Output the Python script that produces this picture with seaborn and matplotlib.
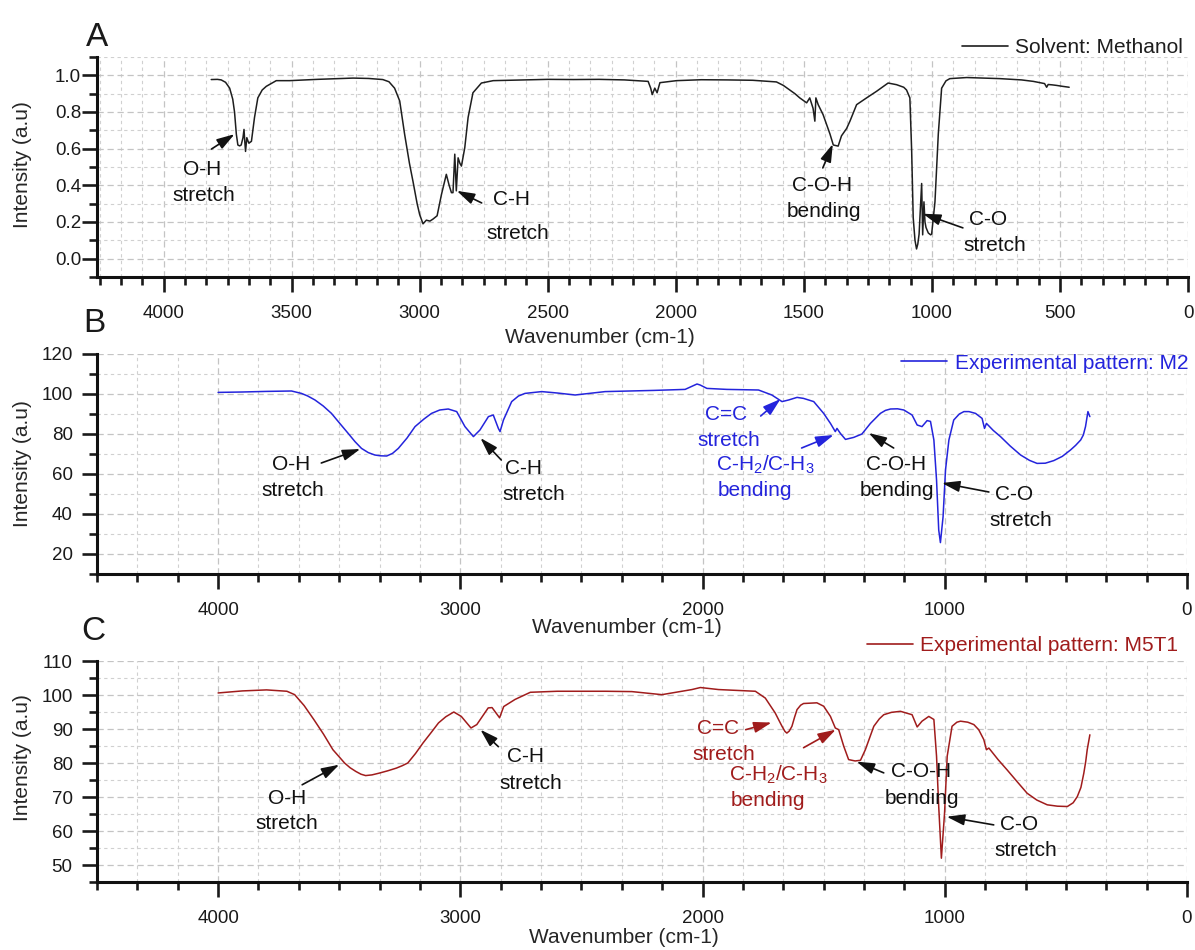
import matplotlib
matplotlib.use('Agg')
import matplotlib.pyplot as plt
from matplotlib.ticker import MultipleLocator, AutoMinorLocator, FormatStrFormatter
import pandas as pd
import seaborn as sns

# ---- spectra ----
wn_methanol = [3814, 3790, 3775, 3758, 3742, 3730, 3723, 3716, 3710, 3703, 3697, 3690, 3686, 3683,
               3680, 3675, 3670, 3667, 3657, 3645, 3632, 3615, 3599, 3560, 3508, 3400, 3260, 3200,
               3144, 3120, 3098, 3078, 3059, 3040, 3026, 3010, 3000, 2987, 2974, 2960, 2948, 2932,
               2915, 2896, 2885, 2876, 2870, 2863, 2857, 2850, 2843, 2837, 2824, 2811, 2792, 2759,
               2713, 2600, 2500, 2400, 2300, 2200, 2108, 2098, 2092, 2082, 2073, 2062, 1997, 1900,
               1800, 1700, 1607, 1580, 1555, 1535, 1516, 1489, 1477, 1464, 1457, 1453, 1444, 1425,
               1398, 1385, 1366, 1353, 1340, 1333, 1320, 1294, 1255, 1216, 1171, 1138, 1110, 1099,
               1086, 1079, 1073, 1066, 1060, 1055, 1050, 1044, 1040, 1036, 1031, 1027, 1023, 1014,
               1005, 1001, 988, 975, 962, 945, 930, 864, 800, 734, 650, 604, 560, 552, 546, 530,
               513, 490, 464]
int_methanol = [0.977, 0.978, 0.975, 0.962, 0.93, 0.87, 0.80, 0.68, 0.62, 0.615, 0.62, 0.66, 0.705,
                0.64, 0.585, 0.66, 0.64, 0.63, 0.64, 0.77, 0.877, 0.92, 0.94, 0.971, 0.971, 0.978,
                0.985, 0.983, 0.977, 0.965, 0.93, 0.86, 0.68, 0.52, 0.42, 0.30, 0.24, 0.19, 0.21,
                0.205, 0.216, 0.234, 0.35, 0.46, 0.40, 0.36, 0.36, 0.57, 0.37, 0.55, 0.52, 0.505,
                0.605, 0.77, 0.905, 0.958, 0.971, 0.975, 0.978, 0.977, 0.978, 0.975, 0.967, 0.93,
                0.895, 0.93, 0.905, 0.96, 0.971, 0.976, 0.975, 0.973, 0.964, 0.945, 0.92, 0.90,
                0.877, 0.85, 0.877, 0.82, 0.75, 0.877, 0.84, 0.786, 0.68, 0.62, 0.614, 0.67, 0.696,
                0.71, 0.75, 0.84, 0.877, 0.913, 0.958, 0.949, 0.935, 0.92, 0.877, 0.587, 0.224,
                0.10, 0.053, 0.08, 0.134, 0.30, 0.41, 0.13, 0.31, 0.20, 0.17, 0.14, 0.13, 0.134,
                0.31, 0.68, 0.93, 0.97, 0.982, 0.988, 0.985, 0.982, 0.975, 0.967, 0.955, 0.935,
                0.95, 0.948, 0.945, 0.94, 0.935]

wn_m2 = [4000, 3900, 3800, 3697, 3656, 3630, 3600, 3566, 3532, 3497, 3463, 3435, 3408, 3380, 3353,
         3330, 3304, 3280, 3256, 3220, 3187, 3150, 3119, 3085, 3050, 3015, 2981, 2946, 2919, 2884,
         2864, 2843, 2836, 2822, 2788, 2760, 2733, 2664, 2600, 2526, 2402, 2200, 2072, 2023, 2010,
         1982, 1900, 1769, 1714, 1672, 1645, 1610, 1583, 1541, 1500, 1472, 1452, 1445, 1431, 1410,
         1376, 1342, 1307, 1266, 1245, 1224, 1195, 1169, 1135, 1114, 1094, 1073, 1059, 1045, 1034,
         1025, 1018, 1007, 997, 983, 963, 940, 921, 900, 873, 846, 836, 828, 800, 770, 730, 687,
         650, 619, 585, 550, 515, 481, 460, 439, 428, 419, 409, 401]
int_m2 = [100.8, 101.0, 101.3, 101.5, 100.3, 99, 97, 94.0, 90.3, 85.2, 80.3, 76.2, 72.8, 70.7, 69.5,
          69.1, 69, 70.3, 72.8, 78, 83.7, 87.5, 90.3, 92.0, 92.5, 91.2, 83.7, 78.7, 82, 88.7,
          89.5, 82.8, 81.2, 87, 96.2, 99.0, 100.3, 101.2, 100.5, 99.5, 101.2, 101.8, 102.3, 105,
          104.5, 102.8, 102.3, 102, 99.5, 96.2, 97, 98.3, 97.8, 96.2, 90.3, 85.3, 81.2, 82.8, 80.3,
          77.3, 78.3, 80, 85.3, 90.3, 91.8, 92.5, 92.6, 92, 89.5, 84.5, 83.7, 86.7, 86.3, 77, 57,
          32, 25.7, 38.7, 62, 77, 87, 90.0, 91.2, 91.2, 90.3, 87.8, 82.8, 85.3, 81.8, 78.7, 74.0,
          69.5, 66.8, 65.3, 65.4, 66.7, 68.8, 72, 74.3, 77, 79.5, 83.7, 91.2, 88.7]

wn_m5t1 = [4000, 3900, 3800, 3716, 3684, 3645, 3605, 3565, 3526, 3500, 3478, 3455, 3431, 3410, 3391,
           3365, 3336, 3300, 3264, 3240, 3217, 3185, 3154, 3120, 3090, 3060, 3027, 2996, 2956, 2932,
           2885, 2869, 2838, 2821, 2774, 2711, 2600, 2400, 2292, 2168, 2044, 2009, 1934, 1782, 1741,
           1700, 1685, 1672, 1660, 1652, 1642, 1631, 1620, 1610, 1595, 1583, 1528, 1500, 1472, 1452,
           1438, 1417, 1397, 1370, 1348, 1328, 1293, 1270, 1252, 1220, 1183, 1135, 1114, 1094, 1066,
           1045, 1034, 1025, 1014, 1001, 990, 970, 950, 935, 905, 880, 860, 839, 828, 818, 780, 743,
           700, 660, 620, 577, 535, 494, 470, 453, 438, 426, 418, 412, 401]
int_m5t1 = [100.6, 101.2, 101.5, 101.1, 100.1, 96.9, 92.8, 88.5, 83.9, 81.8, 80, 78.6, 77.5, 76.7,
            76.3, 76.5, 77, 77.7, 78.5, 79.2, 80, 82.8, 85.9, 89, 91.8, 93.6, 95, 93.7, 90.3, 91.3,
            96.2, 96.3, 93.3, 96.6, 98.7, 100.8, 101.1, 101.1, 101.0, 100.1, 101.6, 102.2, 101.6,
            101.1, 99.1, 94.7, 92.6, 90.8, 89.3, 88.8, 89.4, 90.8, 93.5, 95.7, 97.0, 97.5, 97.7,
            96.7, 93.7, 90.3, 89.8, 84.9, 81, 80.6, 80.8, 83.9, 90.8, 93.0, 94.2, 94.9, 95.2, 94.2,
            90.6, 92.3, 93.7, 92.8, 82, 67.2, 52, 65.2, 82, 90.8, 92.0, 92.3, 92.0, 91.3, 89.8,
            86.9, 83.9, 84.4, 81.0, 78, 74.4, 71.1, 69.1, 67.7, 67.3, 67.2, 68.3, 70.1, 72.8, 77,
            80.5, 83.9, 88.3]

series_names = ['Solvent: Methanol', 'Experimental pattern: M2', 'Experimental pattern: M5T1']
series_colors = ['#1e1e1e', '#2424dc', '#a01c1c']

# ---- band labels: (text, wavenumber, intensity, colour key) ----
CH_BEND = 'C-H$_\\mathregular{2}$/C-H$_\\mathregular{3}$'
labels_a = [('O-H', 3848, 0.484, 'k'), ('stretch', 3844, 0.342, 'k'),
            ('C-H', 2641, 0.321, 'k'), ('stretch', 2617, 0.136, 'k'),
            ('C-O-H', 1430, 0.397, 'k'), ('bending', 1422, 0.255, 'k'),
            ('C-O', 781, 0.212, 'k'), ('stretch', 754, 0.071, 'k')]
labels_b = [('O-H', 3698, 65, 'k'), ('stretch', 3690, 52, 'k'),
            ('C-H', 2740, 62.5, 'k'), ('stretch', 2698, 50, 'k'),
            ('C=C', 1905, 89.5, 's'), ('stretch', 1893, 77, 's'),
            (CH_BEND, 1740, 64.5, 's'), ('bending', 1785, 52, 's'),
            ('C-O-H', 1202, 64.5, 'k'), ('bending', 1198, 52, 'k'),
            ('C-O', 715, 49.5, 'k'), ('stretch', 686, 37, 'k')]
labels_c = [('O-H', 3715, 69.5, 'k'), ('stretch', 3715, 62.1, 'k'),
            ('C-H', 2731, 81.9, 'k'), ('stretch', 2707, 73.9, 'k'),
            ('C=C', 1934, 90.1, 's'), ('stretch', 1913, 82.4, 's'),
            (CH_BEND, 1686, 76.5, 's'), ('bending', 1731, 68.9, 's'),
            ('C-O-H', 1099, 77.4, 'k'), ('bending', 1095, 69.5, 'k'),
            ('C-O', 694, 61.8, 'k'), ('stretch', 665, 54.4, 'k')]

# arrows: (tail wn, tail y, head wn, head y, colour key)
arrows_a = [(3813, 0.598, 3723, 0.679, 'k'), (2758, 0.304, 2855, 0.37, 'k'),
            (1426, 0.495, 1387, 0.625, 'k'), (879, 0.168, 1035, 0.245, 'k')]
arrows_b = [(3574, 65.5, 3413, 72.5, 'k'), (2831, 67, 2917, 78, 'k'),
            (1760, 89, 1678, 97.5, 's'), (1591, 73, 1459, 79.5, 's'),
            (1211, 73, 1314, 80.5, 'k'), (818, 51, 1012, 55.5, 'k')]
arrows_c = [(3653, 73.6, 3500, 79.5, 'k'), (2843, 84.8, 2917, 89.8, 'k'),
            (1822, 89.8, 1715, 91.9, 's'), (1583, 84.5, 1450, 89.8, 's'),
            (1252, 77.1, 1364, 80.4, 'k'), (798, 61.8, 992, 64.2, 'k')]

sns.set_style('ticks')
plt.rcParams['font.family'] = ['Liberation Sans', 'DejaVu Sans']
plt.rcParams['mathtext.fontset'] = 'custom'
plt.rcParams['mathtext.rm'] = 'Liberation Sans'
plt.rcParams['text.color'] = '#1a1a1a'
plt.rcParams['xtick.color'] = '#1a1a1a'
plt.rcParams['ytick.color'] = '#1a1a1a'

W, H = 1195, 950
fig = plt.figure(figsize=(W / 100, H / 100), dpi=100)


def add_ax(left, top, right, bottom):
    return fig.add_axes([left / W, 1 - bottom / H, (right - left) / W, (bottom - top) / H])


panels = [
    dict(box=(97, 57, 1188, 277), wn=wn_methanol, y=int_methanol, xmax=4260, xstep=500,
         ylim=(-0.1, 1.1), ystep=0.2, fmt='%.1f', ypad=1, labels=labels_a, arrows=arrows_a,
         xlab=(0.461, -0.232), ylab=(-0.0596, 0.51), leg=(0.9954, 1.041), letter=('A', 97, 37)),
    dict(box=(97, 354, 1187, 574), wn=wn_m2, y=int_m2, xmax=4500, xstep=1000,
         ylim=(10, 120), ystep=20, fmt='%d', ypad=7, labels=labels_b, arrows=arrows_b,
         xlab=(0.486, -0.2), ylab=(-0.0596, 0.5), leg=(1.001, 0.959), letter=('B', 94, 324)),
    dict(box=(97, 661, 1187, 882), wn=wn_m5t1, y=int_m5t1, xmax=4500, xstep=1000,
         ylim=(45, 110), ystep=10, fmt='%d', ypad=7, labels=labels_c, arrows=arrows_c,
         xlab=(0.4835, -0.208), ylab=(-0.0596, 0.561), leg=(0.992, 1.068), letter=('C', 93, 632)),
]

for i, p in enumerate(panels):
    ax = add_ax(*p['box'])
    color = series_colors[i]
    df = pd.DataFrame({'wavenumber': p['wn'], 'intensity': p['y']})
    sns.lineplot(data=df, x='wavenumber', y='intensity', ax=ax, color=color, lw=1.1,
                 estimator=None, sort=False, label=series_names[i])

    ax.set_xlim(p['xmax'], 0)
    ax.set_ylim(*p['ylim'])
    ax.xaxis.set_major_locator(MultipleLocator(p['xstep']))
    ax.xaxis.set_minor_locator(AutoMinorLocator(6))
    ax.yaxis.set_major_locator(MultipleLocator(p['ystep']))
    ax.yaxis.set_minor_locator(AutoMinorLocator(2))
    ax.yaxis.set_major_formatter(FormatStrFormatter(p['fmt']))

    ax.set_axisbelow(True)
    ax.grid(which='major', color='#c4c4c4', ls=(0, (5, 3)), lw=0.9)
    ax.grid(which='minor', color='#d0d0d0', ls=(0, (3, 3)), lw=0.8)

    for s in ['top', 'right']:
        ax.spines[s].set_visible(False)
    for s in ['left', 'bottom']:
        ax.spines[s].set_linewidth(2.2)
        ax.spines[s].set_color('#111111')
    ax.tick_params(which='major', length=10.5, width=1.9, labelsize=13.5, direction='out')
    ax.tick_params(which='minor', length=5.5, width=1.9, direction='out')
    ax.tick_params(axis='x', which='major', pad=10)
    ax.tick_params(axis='y', which='major', pad=p['ypad'])

    ax.set_xlabel('Wavenumber (cm-1)', fontsize=15)
    ax.set_ylabel('Intensity (a.u)', fontsize=15)
    ax.xaxis.set_label_coords(*p['xlab'])
    ax.yaxis.set_label_coords(*p['ylab'])

    leg = ax.legend(loc='center right', bbox_to_anchor=p['leg'], frameon=False, fontsize=15,
                    handlelength=2.2, handletextpad=0.35, borderpad=0, borderaxespad=0,
                    labelcolor='linecolor')
    for line in leg.get_lines():
        line.set_linewidth(1.2)

    for txt, xw, yv, ck in p['labels']:
        ax.text(xw, yv, txt, fontsize=15, ha='center', va='center',
                color=color if ck == 's' else '#111111')
    for tx, ty, hx, hy, ck in p['arrows']:
        ax.annotate('', xy=(hx, hy), xytext=(tx, ty), annotation_clip=False,
                    arrowprops=dict(arrowstyle='-|>,head_length=0.9,head_width=0.28',
                                    mutation_scale=12, lw=1.2, shrinkA=0, shrinkB=0,
                                    color=color if ck == 's' else '#111111'))

    letter, lx, ly = p['letter']
    fig.text(lx / W, 1 - ly / H, letter, fontsize=24, ha='center', va='center')

fig.savefig('out.png', dpi=100)
